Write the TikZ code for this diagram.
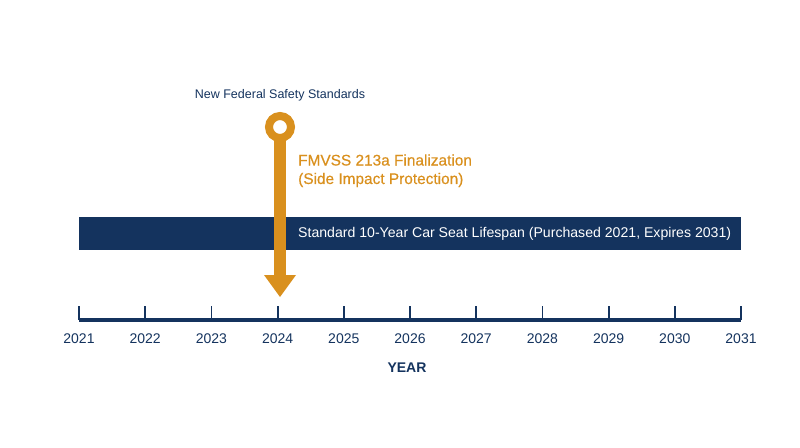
\documentclass[tikz,border=0pt]{standalone}
\usepackage{fontspec}
\setmainfont{Liberation Sans}
\newfontfamily\mediumfont[FakeBold=0.5]{Liberation Sans}
\definecolor{navy}{HTML}{14335E}
\definecolor{gold}{HTML}{D9901E}
\begin{document}
\begin{tikzpicture}[x=1pt,y=-1pt,
  yearlbl/.style={font=\fontsize{14}{16}\selectfont, text=navy, inner sep=0pt},
  tickmark/.style={draw=navy, line width=1.8pt},
  axisline/.style={draw=navy, line width=4pt},
  goldtxt/.style={font=\mediumfont\fontsize{15.4}{18}\selectfont, text=gold, inner sep=0pt, anchor=west}]
\useasboundingbox (0,0) rectangle (800,447);
% lifespan bar
\fill[navy] (79,217) rectangle (741,250);
\node[font=\fontsize{14.1}{16}\selectfont, text=white, anchor=west, inner sep=0pt] (bar) at (298,234) {Standard 10-Year Car Seat Lifespan (Purchased 2021, Expires 2031)};
% axis
\coordinate (a0) at (79,320);
\coordinate (a1) at (741,320);
\foreach \i in {0,...,10}{
  \pgfmathsetmacro{\xx}{79+66.2*\i}
  \pgfmathtruncatemacro{\yr}{2021+\i}
  \draw[tickmark] (\xx,306) -- (\xx,320);
  \node[yearlbl] (y\yr) at (\xx,339) {\yr};
}
\draw[axisline] (a0) -- (a1);
\node[font=\fontsize{14}{16}\selectfont\bfseries, text=navy, inner sep=0pt] (year) at (407,368) {YEAR};
% event marker
\coordinate (c) at (280,127);
\draw[gold, line width=8pt] (c) circle (11);
\fill[gold] (274,138) rectangle (286,276);
\fill[gold] (264,275) -- (296,275) -- (280,297) -- cycle;
\node[font=\fontsize{12.5}{14}\selectfont, text=navy, inner sep=0pt] (fed) at (280,95) {New Federal Safety Standards};
\node[goldtxt] (fm1) at (298,160) {FMVSS 213a Finalization};
\node[goldtxt] (fm2) at (298,180) {(Side Impact Protection)};
\end{tikzpicture}
\end{document}
